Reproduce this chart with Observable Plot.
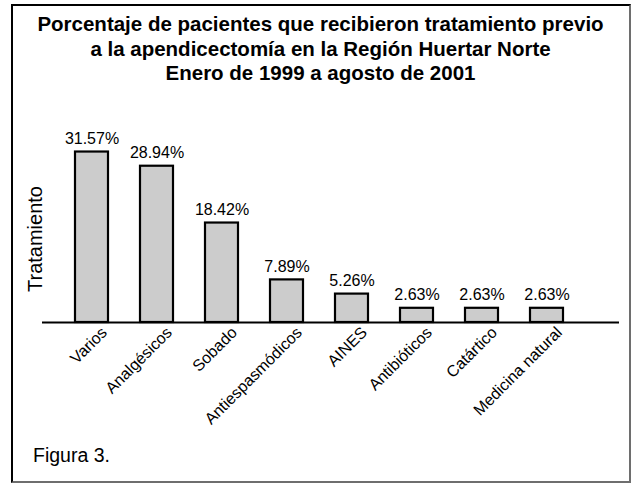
<!DOCTYPE html>
<html><head><meta charset="utf-8">
<script src="https://cdn.jsdelivr.net/npm/d3@7"></script>
<script src="https://cdn.jsdelivr.net/npm/@observablehq/plot@0.6"></script>
<style>
body{margin:0;background:#fff;font-family:"Liberation Sans",Arial,sans-serif;color:#000;}
#page{position:relative;width:631px;height:483px;overflow:hidden;background:#fff;}
#frame{position:absolute;left:11px;top:4px;width:616px;height:475px;border-left:2px solid #000;border-top:2px solid #000;border-right:2px solid #6e6e6e;border-bottom:2px solid #6e6e6e;}
#title{position:absolute;left:12px;width:617px;top:12.2px;text-align:center;font-weight:bold;font-size:20.5px;line-height:24.5px;white-space:nowrap;}
#ylabel{position:absolute;left:35px;top:239px;transform:translate(-50%,-50%) rotate(-90deg);font-size:20px;white-space:nowrap;line-height:20px;}
#caption{position:absolute;left:33px;top:444px;font-size:19.5px;line-height:22px;}
#chart{position:absolute;left:0;top:0;}
</style></head>
<body>
<div id="page">
  <div id="frame"></div>
  <div id="chart"></div>
  <div id="title">Porcentaje de pacientes que recibieron tratamiento previo<br>a la apendicectomía en la Región Huertar Norte<br>Enero de 1999 a agosto de 2001</div>
  <div id="ylabel">Tratamiento</div>
  <div id="caption">Figura 3.</div>
</div>
<script>
const categories = ["Varios","Analgésicos","Sobado","Antiespasmódicos","AINES","Antibióticos","Catártico","Medicina natural"];
const values = [31.57,28.94,18.42,7.89,5.26,2.63,2.63,2.63];
const valueLabels = ["31.57%","28.94%","18.42%","7.89%","5.26%","2.63%","2.63%","2.63%"];
const data = categories.map((c,i)=>({cat:c, value:values[i], label:valueLabels[i]}));

const chart = Plot.plot({
  width:631, height:483,
  marginLeft:42, marginRight:12, marginTop:133, marginBottom:161,
  x:{domain:categories, range:[39.3,597.3], padding:0.5, axis:null},
  y:{domain:[0,35], axis:null},
  style:{background:"transparent", fontFamily:"'Liberation Sans', Arial, sans-serif", color:"#000", overflow:"visible"},
  marks:[
    Plot.barY(data,{x:"cat", y:"value", fill:"#cccccc", stroke:"#000", strokeWidth:2.2}),
    Plot.ruleY([0],{stroke:"#000", strokeWidth:2}),
    Plot.text(data,{x:"cat", y:"value", text:"label", dy:-13, fontSize:16, fill:"#000"}),
    Plot.text(data,{x:"cat", y:0, text:"cat", rotate:-45, textAnchor:"end", lineAnchor:"bottom", dx:16, dy:11, fontSize:16, fill:"#000"})
  ]
});
document.getElementById("chart").appendChild(chart);
</script>
</body></html>
